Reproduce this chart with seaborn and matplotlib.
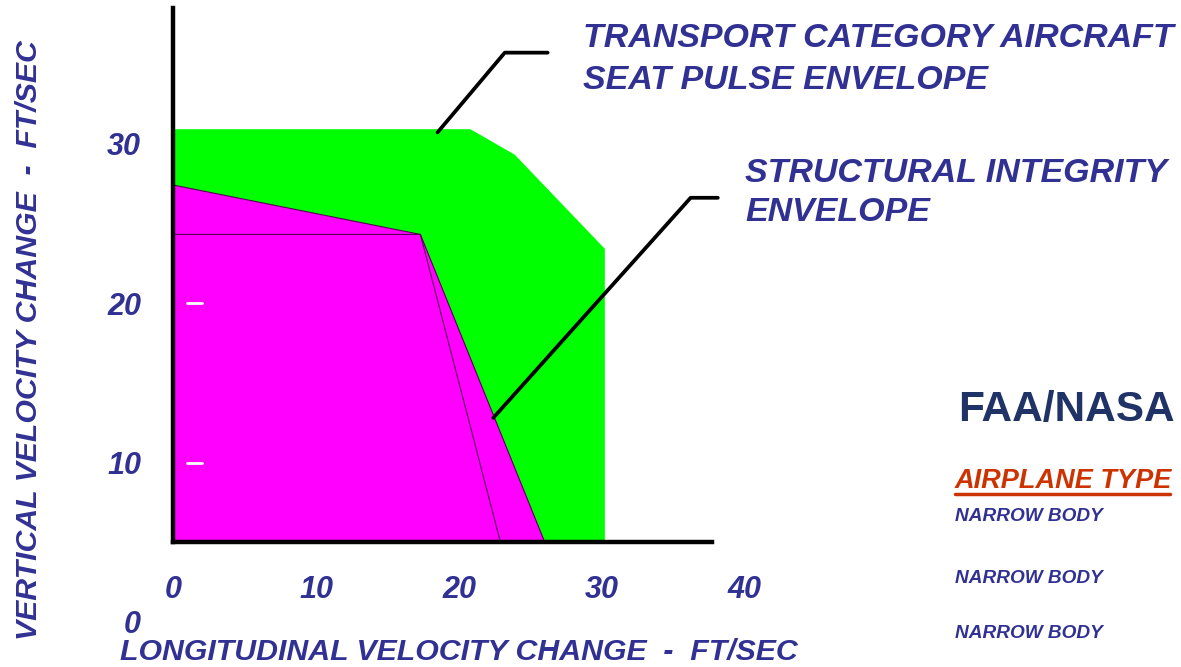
import numpy as np
import pandas as pd
import matplotlib
matplotlib.use('Agg')
import matplotlib.pyplot as plt
import seaborn as sns

# envelope outlines (longitudinal ft/s, vertical ft/s)
seat_x = [0, 20.8, 23.9, 30.2, 30.2, 0]
seat_y = [30.9, 30.9, 29.3, 23.4, 5.0, 5.0]

struct_x = [0, 17.3, 26.0, 0]
struct_y = [27.4, 24.3, 5.0, 5.0]

inner_x = [0, 17.3, 22.9, 0]
inner_y = [24.3, 24.3, 5.0, 5.0]

# leader lines from the labels
lead1_x = [18.5, 23.2, 26.2]
lead1_y = [30.7, 35.7, 35.7]
lead2_x = [22.4, 36.2, 38.1]
lead2_y = [12.8, 26.6, 26.6]

x_ticks = [0, 10, 20, 30, 40]
y_ticks = [0, 10, 20, 30]
marks_y = [10, 20]

types = ['NARROW BODY', 'NARROW BODY', 'NARROW BODY']

blue = '#313194'

sns.set_style('white')
plt.rcParams['font.family'] = ['Liberation Sans', 'DejaVu Sans']

fig = plt.figure(figsize=(11.81, 6.67), dpi=100)
ax = fig.add_axes([0.1465, 0.0675, 0.4843, 0.9205])

ax.fill(seat_x, seat_y, color='#00FF00', lw=0, zorder=1)
ax.fill(struct_x, struct_y, facecolor='#FF00FF', edgecolor='#550055', lw=0.8, zorder=2)
ax.fill(inner_x, inner_y, facecolor='#FF00FF', edgecolor='#550055', lw=0.8, zorder=3)

for lx, ly in [(lead1_x, lead1_y), (lead2_x, lead2_y)]:
    df = pd.DataFrame({'x': lx, 'y': ly})
    sns.lineplot(data=df, x='x', y='y', sort=False, color='black', lw=2.7, ax=ax, zorder=4)

for m in marks_y:
    ax.plot([1.0, 2.0], [m, m], color='white', lw=2, zorder=5)

for s in ['top', 'right']:
    ax.spines[s].set_visible(False)
ax.spines['bottom'].set_position(('data', 5))
ax.spines['bottom'].set_bounds(0, 37.7)
ax.spines['left'].set_bounds(5, 38.5)
for s in ['bottom', 'left']:
    ax.spines[s].set_linewidth(3.2)
    ax.spines[s].set_color('black')
    ax.spines[s].set_zorder(6)
ax.patch.set_alpha(0)

ax.set_xlim(0, 40)
ax.set_ylim(0, 38.5)
ax.set_xticks(x_ticks)
ax.set_yticks(y_ticks)
ax.set_xlabel('')
ax.set_ylabel('')
tick_font = dict(fontsize=22, fontweight='bold', fontstyle='italic', color=blue)
ax.set_xticklabels([str(t) for t in x_ticks], **tick_font)
ax.set_yticklabels([str(t) for t in y_ticks], **tick_font)
ax.tick_params(axis='x', length=0, pad=23.5)
ax.tick_params(axis='y', length=0, pad=23)

lab = dict(fontweight='bold', fontstyle='italic', color=blue, va='center', ha='left')
fig.text(0.4937, 0.943, 'TRANSPORT CATEGORY AIRCRAFT', fontsize=24.5, **lab)
fig.text(0.4937, 0.880, 'SEAT PULSE ENVELOPE', fontsize=24.5, **lab)
fig.text(0.6308, 0.7406, 'STRUCTURAL INTEGRITY', fontsize=24.5, **lab)
fig.text(0.6308, 0.6807, 'ENVELOPE', fontsize=24.5, **lab)

fig.text(0.1016, 0.0225, 'LONGITUDINAL VELOCITY CHANGE  -  FT/SEC', fontsize=21.8, **lab)
fig.text(0.0245, 0.490, 'VERTICAL VELOCITY CHANGE  -  FT/SEC', fontsize=21.8, rotation=90,
         fontweight='bold', fontstyle='italic', color=blue, va='center', ha='center')

fig.text(0.8112, 0.3853, 'FAA/NASA', fontsize=30.5, fontweight='bold', color='#1F3366',
         va='center', ha='left')
fig.text(0.8086, 0.2789, 'AIRPLANE TYPE', fontsize=19.5, fontweight='bold', fontstyle='italic',
         color='#CC3300', va='center', ha='left')
fig.add_artist(plt.Line2D([0.8086, 0.9907], [0.2594, 0.2594], color='#CC3300', lw=2.5))
for t, yy in zip(types, [0.2249, 0.1334, 0.0495]):
    fig.text(0.8086, yy, t, fontsize=13.7, **lab)

fig.savefig('out.png', dpi=100)
